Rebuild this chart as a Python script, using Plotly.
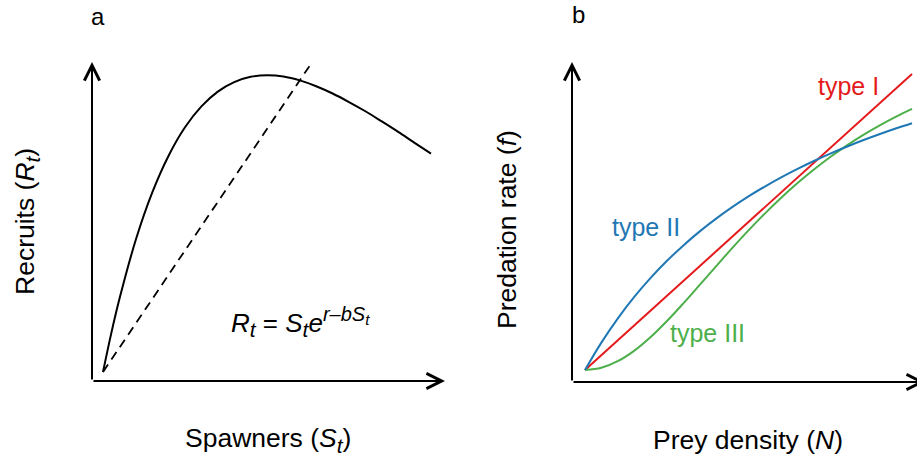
import plotly.graph_objects as go

# ---------------- data ----------------
# Panel a: Ricker stock-recruitment curve
spawners = [0, 0.05, 0.1, 0.2, 0.3, 0.4, 0.5, 0.6, 0.7, 0.8, 0.9, 1.0,
            1.1, 1.2, 1.3, 1.4, 1.5, 1.6, 1.7, 1.8, 1.9, 2.0]
recruits = [0, 0.158, 0.300, 0.544, 0.738, 0.890, 1.007, 1.093, 1.154, 1.193, 1.215, 1.221,
            1.216, 1.200, 1.176, 1.146, 1.111, 1.073, 1.031, 0.988, 0.943, 0.899]
replace_x = [0, 1.274]
replace_y = [0, 1.274]

# Panel b: functional responses
prey = [0, 0.5, 1, 1.5, 2, 2.5, 3, 3.5, 4, 4.5, 5, 5.5, 6, 6.5, 7, 7.5, 8, 8.5, 9, 9.5, 10]
type1_x = [0, 10]
type1_y = [0, 10]
type2 = [0, 0.925, 1.738, 2.459, 3.102, 3.680, 4.201, 4.675, 5.106, 5.501, 5.864, 6.198,
         6.507, 6.794, 7.061, 7.310, 7.542, 7.760, 7.964, 8.156, 8.338]
type3 = [0, 0.0755, 0.297, 0.648, 1.108, 1.648, 2.242, 2.865, 3.495, 4.116, 4.715, 5.284,
         5.818, 6.315, 6.774, 7.196, 7.582, 7.935, 8.257, 8.551, 8.819]

RED, BLUE, GREEN = "#E41A1C", "#1F78B4", "#4DAF4A"
FONT = "Arial, Liberation Sans, Helvetica, sans-serif"
W, H = 917, 459
FS = 26.5

fig = go.Figure()
fig.add_trace(go.Scatter(x=spawners, y=recruits, mode="lines", line=dict(color="black", width=2, shape="spline"),
                         xaxis="x", yaxis="y", showlegend=False))
fig.add_trace(go.Scatter(x=replace_x, y=replace_y, mode="lines", line=dict(color="black", width=1.8, dash="9px,6px"),
                         xaxis="x", yaxis="y", showlegend=False))
fig.add_trace(go.Scatter(x=type1_x, y=type1_y, mode="lines", line=dict(color=RED, width=2),
                         xaxis="x2", yaxis="y2", showlegend=False))
fig.add_trace(go.Scatter(x=prey, y=type3, mode="lines", line=dict(color=GREEN, width=2, shape="spline"),
                         xaxis="x2", yaxis="y2", showlegend=False))
fig.add_trace(go.Scatter(x=prey, y=type2, mode="lines", line=dict(color=BLUE, width=2, shape="spline"),
                         xaxis="x2", yaxis="y2", showlegend=False))

def px(x):
    return x / W

def py(y):
    return 1 - y / H

ax_a_x = [-0.0671, 2.0854]
ax_a_y = [-0.037, 1.2757]
ax_b_x = [-0.3976, 10.153]
ax_b_y = [-0.4054, 10.405]

hidden = dict(visible=False, showgrid=False, zeroline=False, fixedrange=True)
fig.update_layout(
    width=W, height=H, margin=dict(l=0, r=0, t=0, b=0),
    paper_bgcolor="white", plot_bgcolor="white",
    xaxis=dict(domain=[px(92), px(445)], range=ax_a_x, anchor="y", **hidden),
    yaxis=dict(domain=[py(381), py(62)], range=ax_a_y, anchor="x", **hidden),
    xaxis2=dict(domain=[px(572), 1.0], range=ax_b_x, anchor="y2", **hidden),
    yaxis2=dict(domain=[py(382), py(62)], range=ax_b_y, anchor="x2", **hidden),
    font=dict(family=FONT, size=FS, color="black"),
)

def axis_arrow(xr, yr, x0, y0, x1, y1):
    return dict(xref=xr, yref=yr, axref=xr, ayref=yr, x=x1, y=y1, ax=x0, ay=y0, text="",
                showarrow=True, arrowhead=5, arrowsize=1.5, arrowwidth=2, arrowcolor="black")

anns = [
    axis_arrow("x", "y", ax_a_x[0], ax_a_y[0], ax_a_x[1], ax_a_y[0]),
    axis_arrow("x", "y", ax_a_x[0], ax_a_y[0], ax_a_x[0], ax_a_y[1]),
    axis_arrow("x2", "y2", ax_b_x[0], ax_b_y[0], 10.40, ax_b_y[0]),
    axis_arrow("x2", "y2", ax_b_x[0], ax_b_y[0], ax_b_x[0], ax_b_y[1]),
]

def label(text, x, y, color="black", size=FS, angle=0):
    return dict(xref="paper", yref="paper", x=px(x), y=py(y), text=text, showarrow=False,
                xanchor="center", yanchor="middle", textangle=angle,
                font=dict(family=FONT, size=size, color=color))

def sub(t, size=21):
    return '<sub><span style="font-size:%dpx"><i>%s</i></span></sub>' % (size, t)

eq = ('<i>R</i>' + sub('t', 21) + ' = <i>S</i>' + sub('t', 21) + '<i>e</i>'
      '<sup><span style="font-size:20px"><i>r</i>\u2013<i>bS</i></span>'
      '<sub><span style="font-size:15px"><i>t</i></span></sub></sup>')

anns += [
    label("a", 98, 16, size=24),
    label("b", 578, 15, size=24),
    label("Spawners (<i>S</i>" + sub('t') + ")", 268, 440),
    label("Recruits (<i>R</i>" + sub('t') + ")", 27, 222, angle=-90),
    label("Prey density (<i>N</i>)", 748, 440),
    label("Predation rate (<i>f</i>)", 507, 230, angle=-90),
    label(eq, 300, 322, size=26),
    label("type I", 848, 86, color=RED, size=25),
    label("type II", 646, 227, color=BLUE, size=25),
    label("type III", 707, 333, color=GREEN, size=25),
]
fig.update_layout(annotations=anns)

fig.write_html("out.html")
